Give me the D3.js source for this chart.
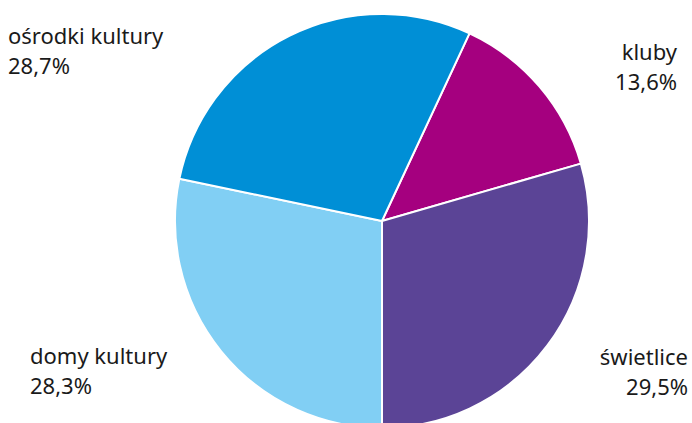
<!DOCTYPE html>
<html>
<head>
<meta charset="utf-8">
<script src="https://cdn.jsdelivr.net/npm/d3@7"></script>
<style>
  html, body { margin: 0; padding: 0; background: #fff; }
  svg { display: block; }
</style>
</head>
<body>
<svg id="chart"></svg>
<script>
const width = 692;
const height = 423;

// data
const categories = ["kluby", "świetlice", "domy kultury", "ośrodki kultury"];
const shares = [13.6, 29.5, 28.3, 28.7];
const colors = ["#a5007f", "#5b4496", "#81cff4", "#008fd6"];

// label placement (baseline of the first line, text-anchor)
const labelLayout = {
  "kluby":           { x: 677, y: 60,  anchor: "end" },
  "świetlice":       { x: 688, y: 365, anchor: "end" },
  "domy kultury":    { x: 30,  y: 364, anchor: "start" },
  "ośrodki kultury": { x: 8,   y: 44,  anchor: "start" }
};

const cx = 382, cy = 221, radius = 207;
const startAngle = 25 * Math.PI / 180;

const data = categories.map((c, i) => ({ name: c, value: shares[i], color: colors[i] }));

const svg = d3.select("#chart")
  .attr("width", width)
  .attr("height", height)
  .attr("viewBox", [0, 0, width, height]);

const pie = d3.pie()
  .sort(null)
  .value(d => d.value)
  .startAngle(startAngle)
  .endAngle(startAngle + 2 * Math.PI);

const arc = d3.arc().innerRadius(0).outerRadius(radius);

// Draw the slices.
svg.append("g")
  .attr("transform", `translate(${cx},${cy})`)
  .selectAll("path")
  .data(pie(data))
  .join("path")
  .attr("d", arc)
  .attr("fill", d => d.data.color)
  .attr("stroke", "#fff")
  .attr("stroke-width", 2)
  .attr("stroke-linejoin", "round");

// Labels: name and share on two lines.
const fmt = v => v.toFixed(1).replace(".", ",") + "%";
const labels = svg.append("g")
  .style("font-family", "'Noto Sans', 'Open Sans', sans-serif")
  .style("font-size", "22px")
  .attr("fill", "#1a1a1a")
  .selectAll("text")
  .data(data)
  .join("text")
  .attr("text-anchor", d => labelLayout[d.name].anchor)
  .attr("x", d => labelLayout[d.name].x)
  .attr("y", d => labelLayout[d.name].y);

labels.append("tspan").text(d => d.name);
labels.append("tspan")
  .attr("x", d => labelLayout[d.name].x)
  .attr("dy", 30)
  .text(d => fmt(d.value));
</script>
</body>
</html>
